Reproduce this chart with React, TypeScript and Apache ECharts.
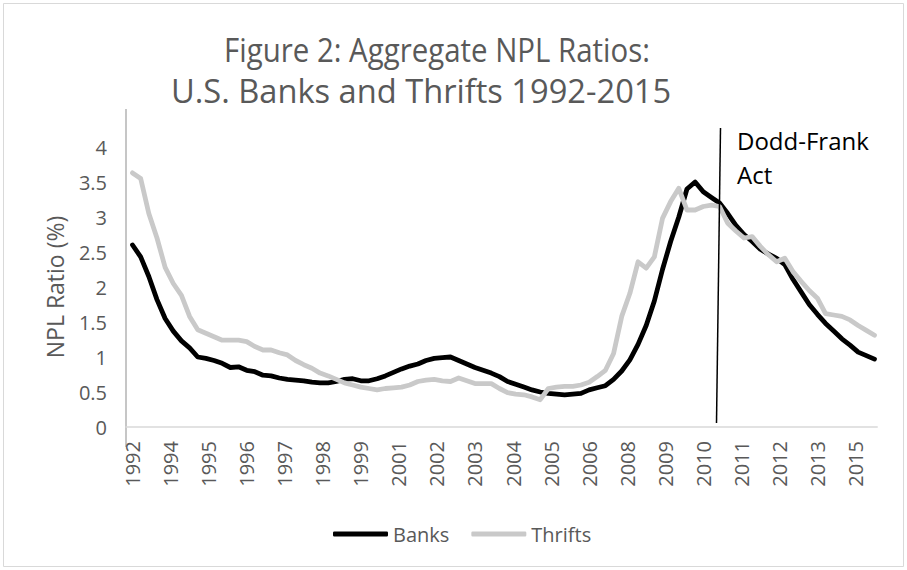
import React, { useEffect, useRef } from "react";
import * as echarts from "echarts";

// Quarterly observations, first one = 1992 Q4 (x measured in months from Dec 1992)
const monthsPerQuarter = 3;
const labelStepMonths = 14;

const tickLabels = [
  "1992", "1994", "1995", "1996", "1997", "1998", "1999", "2001", "2002", "2003",
  "2004", "2005", "2006", "2008", "2009", "2010", "2011", "2012", "2013", "2015",
];

const banks = [
  2.60, 2.43, 2.15, 1.82, 1.55, 1.37, 1.23, 1.13, 1.00, 0.98,
  0.95, 0.91, 0.85, 0.86, 0.81, 0.79, 0.74, 0.73, 0.70, 0.68,
  0.67, 0.66, 0.64, 0.63, 0.63, 0.65, 0.68, 0.69, 0.66, 0.66,
  0.69, 0.73, 0.78, 0.83, 0.87, 0.90, 0.95, 0.98, 0.99, 1.00,
  0.95, 0.90, 0.85, 0.81, 0.77, 0.72, 0.65, 0.61, 0.57, 0.53,
  0.50, 0.48, 0.47, 0.46, 0.47, 0.48, 0.53, 0.56, 0.59, 0.68,
  0.80, 0.96, 1.18, 1.45, 1.80, 2.25, 2.65, 3.00, 3.40, 3.50,
  3.36, 3.28, 3.20, 3.05, 2.88, 2.75, 2.65, 2.54, 2.47, 2.41,
  2.32, 2.11, 1.93, 1.75, 1.61, 1.48, 1.37, 1.26, 1.17, 1.07,
  1.02, 0.97,
];

const thrifts = [
  3.63, 3.55, 3.05, 2.70, 2.28, 2.05, 1.88, 1.58, 1.39, 1.34,
  1.29, 1.24, 1.24, 1.24, 1.22, 1.15, 1.10, 1.10, 1.06, 1.03,
  0.95, 0.89, 0.84, 0.77, 0.73, 0.68, 0.63, 0.60, 0.57, 0.55,
  0.53, 0.55, 0.56, 0.57, 0.60, 0.65, 0.67, 0.68, 0.66, 0.65,
  0.70, 0.66, 0.62, 0.62, 0.62, 0.55, 0.49, 0.47, 0.46, 0.43,
  0.39, 0.55, 0.57, 0.58, 0.58, 0.60, 0.64, 0.72, 0.81, 1.05,
  1.58, 1.91, 2.36, 2.27, 2.43, 2.98, 3.22, 3.41, 3.10, 3.10,
  3.15, 3.17, 3.15, 2.91, 2.80, 2.70, 2.72, 2.58, 2.46, 2.36,
  2.41, 2.22, 2.08, 1.95, 1.84, 1.62, 1.60, 1.58, 1.53, 1.45,
  1.38, 1.31,
];

const titleLines = ["Figure 2: Aggregate NPL Ratios:", "U.S. Banks and Thrifts 1992-2015"];
const yAxisName = "NPL Ratio (%)";
const annotationLines = ["Dodd-Frank", "Act"];

const FONT = "'Open Sans', 'Liberation Sans', sans-serif";
const GREY_TEXT = "#595959";

const toPairs = (vals: number[]) => vals.map((v, i) => [i * monthsPerQuarter, v]);

export default function App() {
  const ref = useRef<HTMLDivElement>(null);

  useEffect(() => {
    if (!ref.current) return;
    const chart = echarts.init(ref.current, null, { renderer: "svg" });
    const tickValues = tickLabels.map((_, k) => k * labelStepMonths);

    chart.setOption({
      animation: false,
      backgroundColor: "#ffffff",
      textStyle: { fontFamily: FONT },
      grid: { left: 126, right: 29.8, top: 112, bottom: 143 },
      xAxis: {
        type: "value",
        min: -2.4,
        max: 274,
        axisLine: { show: true, onZero: true, lineStyle: { color: "#d9d9d9", width: 1.5 } },
        axisTick: { show: false },
        splitLine: { show: false },
        axisLabel: {
          customValues: tickValues,
          rotate: 90,
          margin: 14,
          fontSize: 20,
          color: GREY_TEXT,
          fontFamily: FONT,
          formatter: (v: number) => tickLabels[Math.round(v / labelStepMonths)] ?? "",
        },
      },
      yAxis: {
        type: "value",
        min: 0,
        max: 4.5,
        interval: 0.5,
        axisLine: { show: false },
        axisTick: { show: false },
        splitLine: { show: false },
        axisLabel: {
          margin: 19,
          fontSize: 20,
          color: GREY_TEXT,
          fontFamily: FONT,
          formatter: (v: number) => (v >= 4.5 ? "" : String(v)),
        },
      },
      legend: {
        data: ["Banks", "Thrifts"],
        left: 328,
        top: 519,
        icon: "roundRect",
        itemWidth: 55,
        itemHeight: 5,
        itemGap: 22,
        textStyle: { fontSize: 20, color: GREY_TEXT, fontFamily: FONT },
      },
      series: [
        {
          name: "Banks",
          type: "line",
          data: toPairs(banks),
          showSymbol: false,
          symbol: "none",
          itemStyle: { color: "#000000" },
          lineStyle: { color: "#000000", width: 4.8, cap: "round", join: "round" },
        },
        {
          name: "Thrifts",
          type: "line",
          data: toPairs(thrifts),
          showSymbol: false,
          symbol: "none",
          itemStyle: { color: "#c9c9c9" },
          lineStyle: { color: "#c9c9c9", width: 4.8, cap: "round", join: "round" },
        },
      ],
      graphic: [
        {
          type: "rect",
          shape: { x: 3.5, y: 3.5, width: 900, height: 563 },
          style: { fill: "none", stroke: "#d9d9d9", lineWidth: 1 },
          silent: true,
          z: -1,
        },
        {
          type: "line",
          shape: { x1: 126, y1: 109, x2: 126, y2: 447 },
          style: { stroke: "#b3b3b3", lineWidth: 1.5 },
          silent: true,
        },
        {
          type: "text",
          x: 437,
          y: 50,
          scaleX: 0.92,
          style: {
            text: titleLines[0],
            fontSize: 32,
            fontFamily: FONT,
            fill: GREY_TEXT,
            textAlign: "center",
            textVerticalAlign: "middle",
          },
        },
        {
          type: "text",
          x: 421,
          y: 90,
          scaleX: 1.02,
          style: {
            text: titleLines[1],
            fontSize: 32,
            fontFamily: FONT,
            fill: GREY_TEXT,
            textAlign: "center",
            textVerticalAlign: "middle",
          },
        },
        {
          type: "text",
          x: 55,
          y: 287,
          rotation: Math.PI / 2,
          style: {
            text: yAxisName,
            fontSize: 23,
            fontFamily: FONT,
            fill: GREY_TEXT,
            textAlign: "center",
            textVerticalAlign: "middle",
          },
        },
        {
          type: "line",
          shape: { x1: 720.5, y1: 128, x2: 716.5, y2: 423 },
          style: { stroke: "#000000", lineWidth: 1.5 },
          silent: true,
          z: 10,
        },
        {
          type: "text",
          x: 737,
          y: 140,
          style: {
            text: annotationLines[0],
            fontSize: 24,
            fontFamily: FONT,
            fill: "#000000",
            textAlign: "left",
            textVerticalAlign: "middle",
          },
        },
        {
          type: "text",
          x: 737,
          y: 174,
          style: {
            text: annotationLines[1],
            fontSize: 24,
            fontFamily: FONT,
            fill: "#000000",
            textAlign: "left",
            textVerticalAlign: "middle",
          },
        },
      ],
    });

    return () => chart.dispose();
  }, []);

  return (
    <div
      ref={ref}
      style={{ position: "absolute", left: 0, top: 0, width: 907, height: 570, background: "#fff" }}
    />
  );
}
